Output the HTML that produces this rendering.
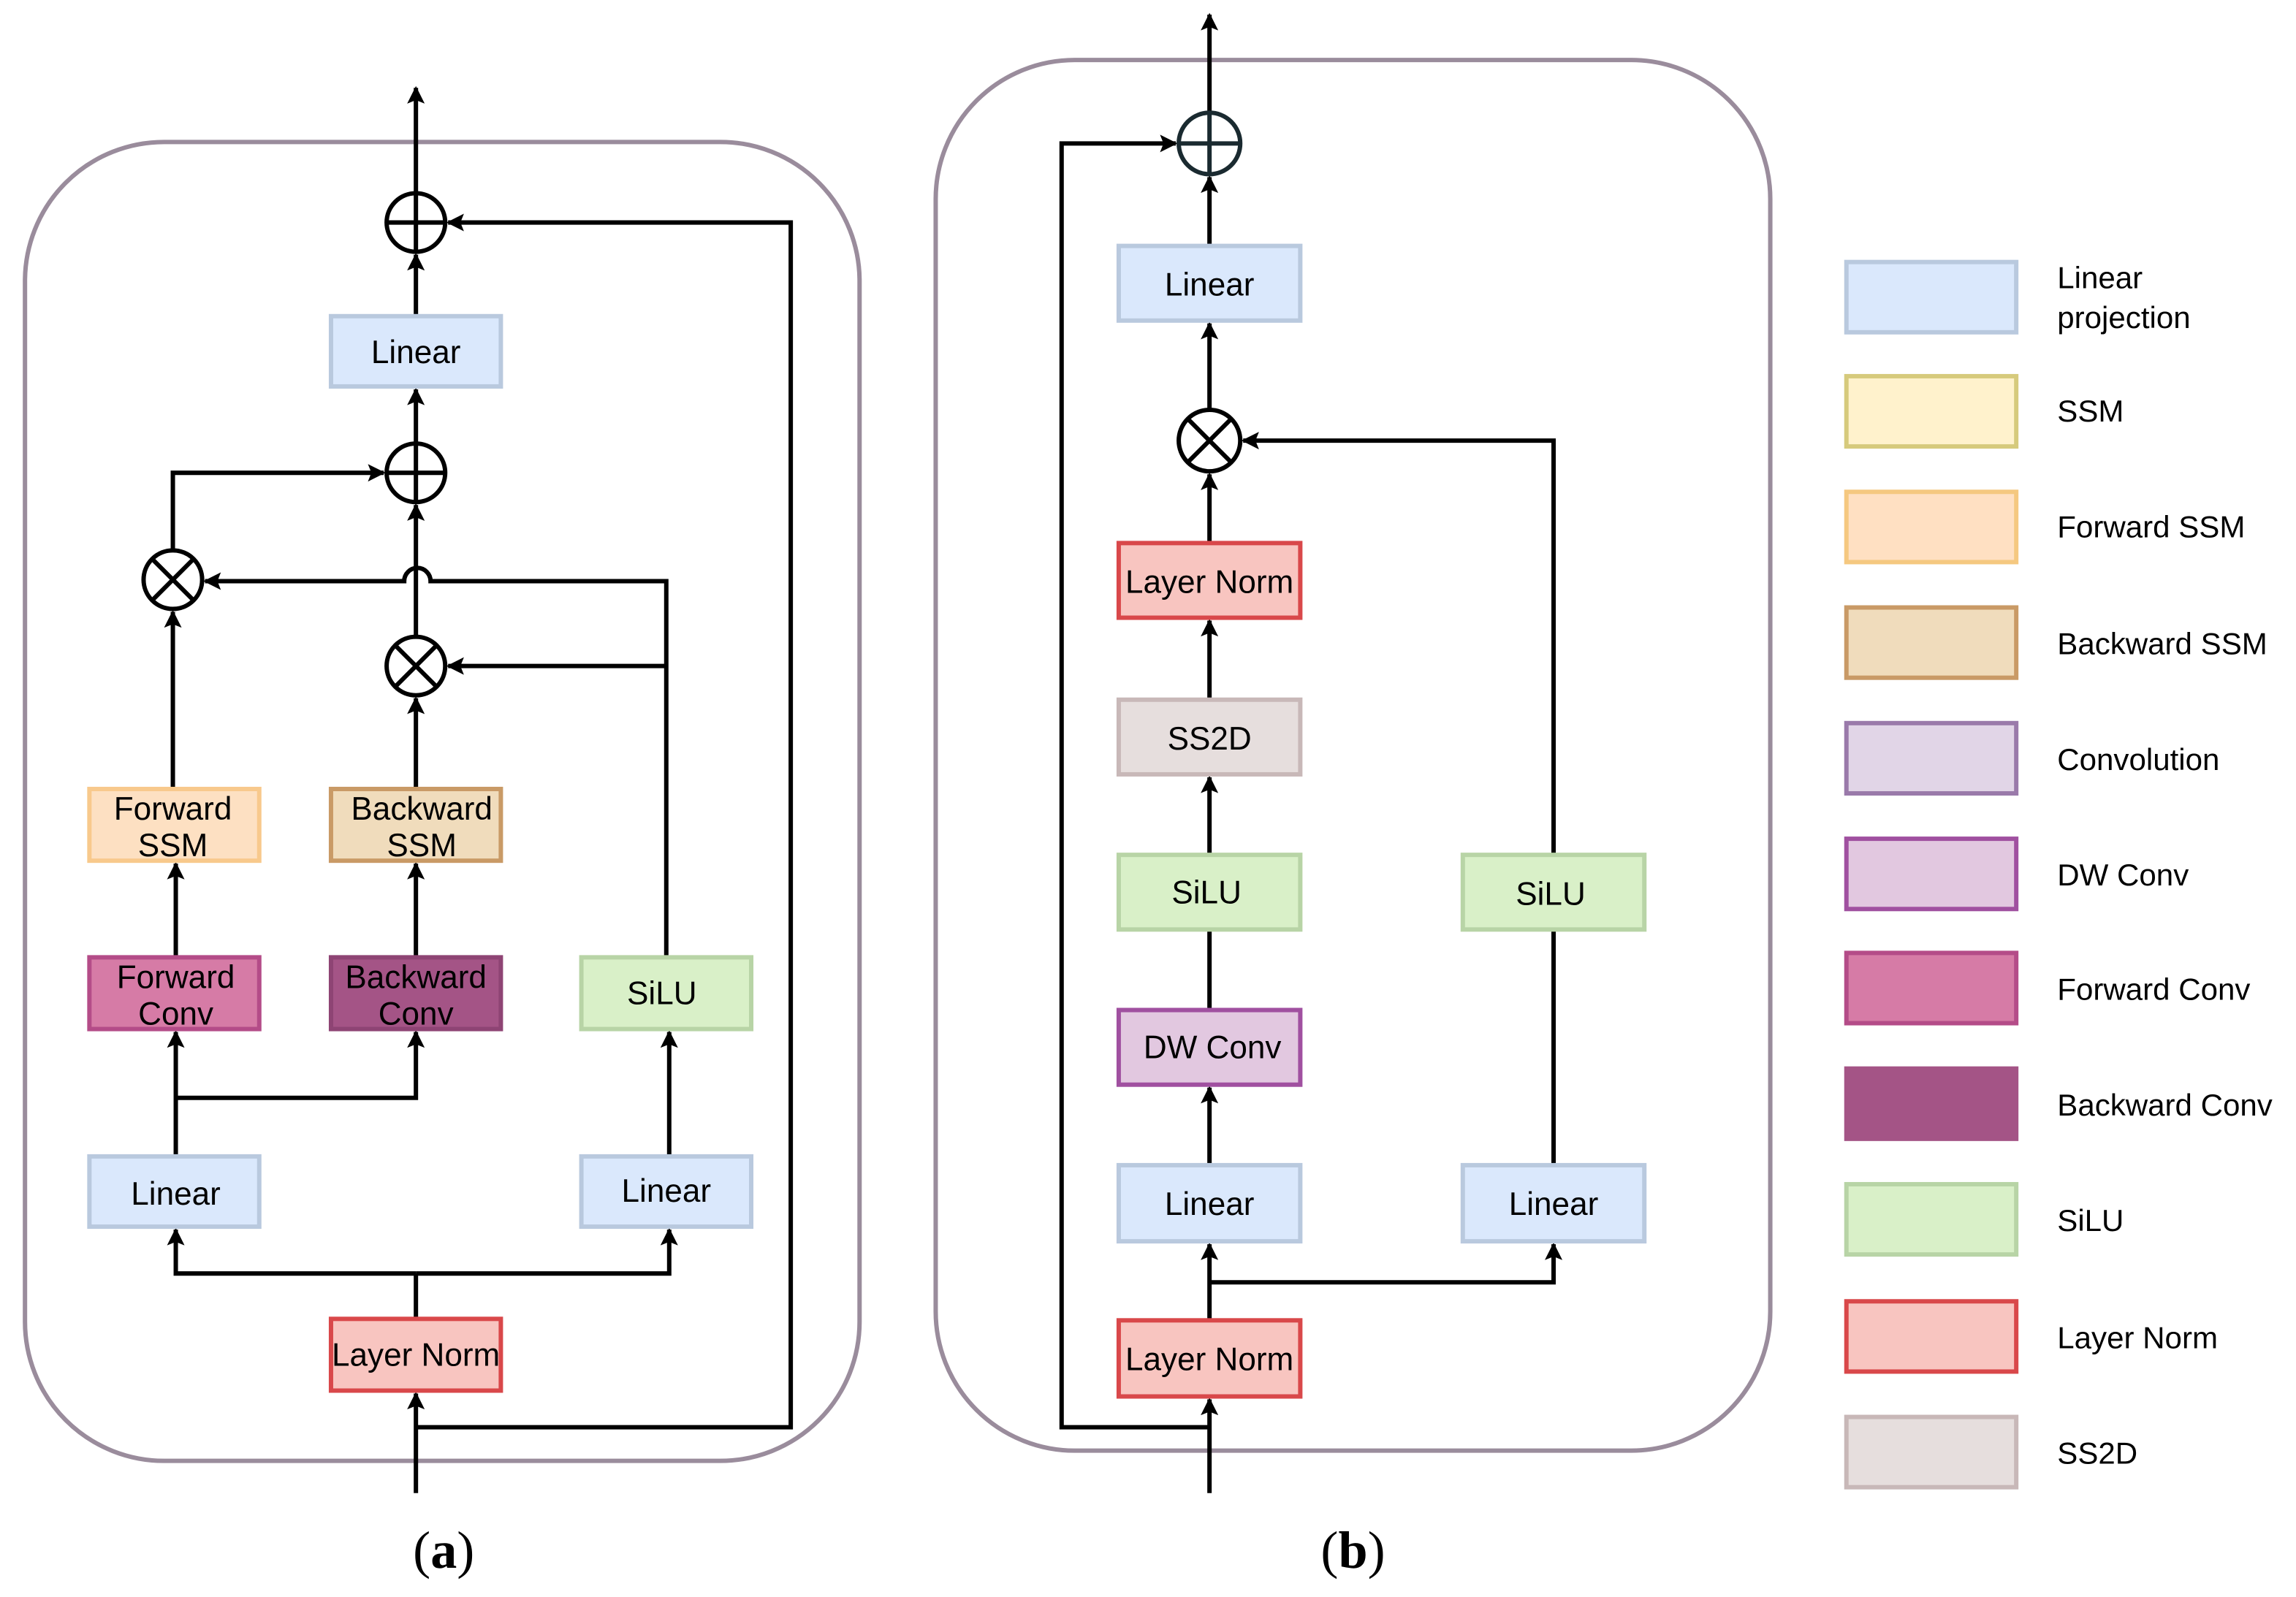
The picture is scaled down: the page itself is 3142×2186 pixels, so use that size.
<!DOCTYPE html>
<html><head><meta charset="utf-8"><style>html,body{margin:0;padding:0;background:#fff}svg{display:block}</style></head>
<body>
<svg width="3142" height="2186" viewBox="0 0 1568 1091" xmlns="http://www.w3.org/2000/svg" font-family="Liberation Sans, sans-serif">
<defs>
<marker id="a" viewBox="0 0 10 10" refX="9" refY="5" markerWidth="4" markerHeight="4" orient="auto" markerUnits="strokeWidth"><path d="M0,0L10,5L0,10L2,5z" fill="#000"/></marker>
</defs>
<g fill="none" stroke="#9a8c9c" stroke-width="3">
<rect x="17" y="97" width="570" height="901" rx="95"/>
<rect x="639" y="41" width="570" height="950" rx="95"/>
</g>
<g stroke="#000" stroke-width="3" fill="none">
<path d="M284 1020V952" marker-end="url(#a)"/>
<path d="M284 901V870"/>
<path d="M284 870H120V840" marker-end="url(#a)"/>
<path d="M284 870H457V840" marker-end="url(#a)"/>
<path d="M120 790V705" marker-end="url(#a)"/>
<path d="M120 750H284V705" marker-end="url(#a)"/>
<path d="M120 654V590" marker-end="url(#a)"/>
<path d="M284 654V590" marker-end="url(#a)"/>
<path d="M118 539V418" marker-end="url(#a)"/>
<path d="M284 539V477" marker-end="url(#a)"/>
<path d="M457 790V705" marker-end="url(#a)"/>
<path d="M455 654V397H294A8 8 0 0 0 276 397H140" marker-end="url(#a)"/>
<path d="M455 455H306" marker-end="url(#a)"/>
<path d="M284 435V345" marker-end="url(#a)"/>
<path d="M118 376V323H262" marker-end="url(#a)"/>
<path d="M284 303V266" marker-end="url(#a)"/>
<path d="M284 216V174" marker-end="url(#a)"/>
<path d="M284 132V60" marker-end="url(#a)"/>
<path d="M284 975H540V152H306" marker-end="url(#a)"/>
<path d="M826 1020V956" marker-end="url(#a)"/>
<path d="M826 975H725V98H803" marker-end="url(#a)"/>
<path d="M826 902V850" marker-end="url(#a)"/>
<path d="M826 876H1061V850" marker-end="url(#a)"/>
<path d="M826 796V743" marker-end="url(#a)"/>
<path d="M826 690V635"/>
<path d="M826 584V531" marker-end="url(#a)"/>
<path d="M826 478V424" marker-end="url(#a)"/>
<path d="M826 371V324" marker-end="url(#a)"/>
<path d="M826 280V221" marker-end="url(#a)"/>
<path d="M826 168V121" marker-end="url(#a)"/>
<path d="M826 77V10" marker-end="url(#a)"/>
<path d="M1061 796V635"/>
<path d="M1061 584V301H849" marker-end="url(#a)"/>
</g>
<g stroke="#000" stroke-width="3" fill="#fff">
<circle cx="284" cy="152" r="20"/><path d="M264 152H304M284 132V172"/>
<circle cx="284" cy="323" r="20"/><path d="M264 323H304M284 303V343"/>
<circle cx="118" cy="396" r="20"/><path d="M104 382L132 410M132 382L104 410"/>
<circle cx="284" cy="455" r="20"/><path d="M270 441L298 469M298 441L270 469"/>
<circle cx="826" cy="98" r="21" stroke="#1a2a30"/><path d="M805 98H847M826 77V119" stroke="#1a2a30"/>
<circle cx="826" cy="301" r="21"/><path d="M811 286L841 316M841 286L811 316"/>
</g>
<g stroke-width="3" font-size="22" text-anchor="middle">
<rect x="226" y="216" width="116" height="48" fill="#dae8fc" stroke="#b9c9de"/><text x="284" y="248">Linear</text>
<rect x="61" y="539" width="116" height="49" fill="#fde0c2" stroke="#f8c98c"/><text x="118" y="560">Forward</text><text x="118" y="585">SSM</text>
<rect x="226" y="539" width="116" height="49" fill="#f0dcbc" stroke="#c99a66"/><text x="288" y="560">Backward</text><text x="288" y="585">SSM</text>
<rect x="61" y="654" width="116" height="49" fill="#d67ba6" stroke="#b44c88"/><text x="120" y="675">Forward</text><text x="120" y="700">Conv</text>
<rect x="226" y="654" width="116" height="49" fill="#a45486" stroke="#8e4474"/><text x="284" y="675">Backward</text><text x="284" y="700">Conv</text>
<rect x="397" y="654" width="116" height="49" fill="#d9f0c8" stroke="#b8d4a6"/><text x="452" y="686">SiLU</text>
<rect x="61" y="790" width="116" height="48" fill="#dae8fc" stroke="#b9c9de"/><text x="120" y="823">Linear</text>
<rect x="397" y="790" width="116" height="48" fill="#dae8fc" stroke="#b9c9de"/><text x="455" y="821">Linear</text>
<rect x="226" y="901" width="116" height="49" fill="#f8c5c0" stroke="#d9484a"/><text x="284" y="933">Layer Norm</text>
<rect x="764" y="168" width="124" height="51" fill="#dae8fc" stroke="#b9c9de"/><text x="826" y="202">Linear</text>
<rect x="764" y="371" width="124" height="51" fill="#f8c5c0" stroke="#d9484a"/><text x="826" y="405">Layer Norm</text>
<rect x="764" y="478" width="124" height="51" fill="#e6dedd" stroke="#c8b8b8"/><text x="826" y="512">SS2D</text>
<rect x="764" y="584" width="124" height="51" fill="#d9f0c8" stroke="#b8d4a6"/><text x="824" y="617">SiLU</text>
<rect x="764" y="690" width="124" height="51" fill="#e2c8e0" stroke="#a050a0"/><text x="828" y="723">DW Conv</text>
<rect x="764" y="796" width="124" height="52" fill="#dae8fc" stroke="#b9c9de"/><text x="826" y="830">Linear</text>
<rect x="999" y="584" width="124" height="51" fill="#d9f0c8" stroke="#b8d4a6"/><text x="1059" y="618">SiLU</text>
<rect x="999" y="796" width="124" height="52" fill="#dae8fc" stroke="#b9c9de"/><text x="1061" y="830">Linear</text>
<rect x="764" y="902" width="124" height="52" fill="#f8c5c0" stroke="#d9484a"/><text x="826" y="936">Layer Norm</text>
</g>
<g stroke-width="3" font-size="21">
<rect x="1261" y="179" width="116" height="48" fill="#dae8fc" stroke="#b9c9de"/>
<rect x="1261" y="257" width="116" height="48" fill="#fff2cc" stroke="#d6ca7c"/>
<rect x="1261" y="336" width="116" height="48" fill="#ffe0c2" stroke="#f5c880"/>
<rect x="1261" y="415" width="116" height="48" fill="#f0dcbc" stroke="#c99a66"/>
<rect x="1261" y="494" width="116" height="48" fill="#e1d5e7" stroke="#9a7aaa"/>
<rect x="1261" y="573" width="116" height="48" fill="#e2c8e0" stroke="#a050a0"/>
<rect x="1261" y="651" width="116" height="48" fill="#d67ba6" stroke="#b44c88"/>
<rect x="1261" y="730" width="116" height="48" fill="#a45486" stroke="#a45486"/>
<rect x="1261" y="809" width="116" height="48" fill="#d9f0c8" stroke="#b8d4a6"/>
<rect x="1261" y="889" width="116" height="48" fill="#f8c5c0" stroke="#d9484a"/>
<rect x="1261" y="968" width="116" height="48" fill="#e6dedd" stroke="#c8b8b8"/>
<text x="1405" y="197">Linear</text><text x="1405" y="224">projection</text>
<text x="1405" y="288">SSM</text>
<text x="1405" y="367">Forward SSM</text>
<text x="1405" y="447">Backward SSM</text>
<text x="1405" y="526">Convolution</text>
<text x="1405" y="605">DW Conv</text>
<text x="1405" y="683">Forward Conv</text>
<text x="1405" y="762">Backward Conv</text>
<text x="1405" y="841">SiLU</text>
<text x="1405" y="921">Layer Norm</text>
<text x="1405" y="1000">SS2D</text>
</g>
<g font-family="Liberation Serif, serif" font-size="36" text-anchor="middle">
<text x="303" y="1071">(<tspan font-weight="bold">a</tspan>)</text>
<text x="924" y="1071">(<tspan font-weight="bold">b</tspan>)</text>
</g>
</svg>
</body></html>
